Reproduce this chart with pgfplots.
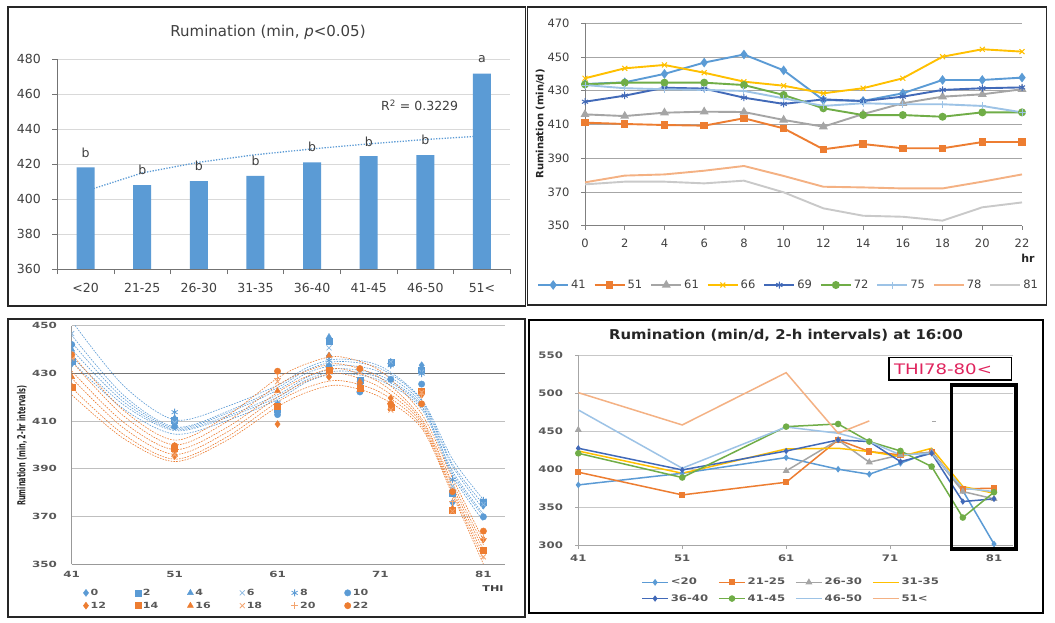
\documentclass[border=0pt]{standalone}
\usepackage{fontspec}
\setmainfont{DejaVu Sans}
\usepackage{graphicx}
\usepackage{pgfplots}
\usepackage{pgfplotstable}
\pgfplotsset{compat=1.18}
\pgfplotsset{/pgf/number format/assume math mode=true}

\definecolor{cBlue}{HTML}{5B9BD5}
\definecolor{cOrange}{HTML}{ED7D31}
\definecolor{cGray}{HTML}{A5A5A5}
\definecolor{cGold}{HTML}{FFC000}
\definecolor{cDBlue}{HTML}{4169B8}
\definecolor{cGreen}{HTML}{70AD47}
\definecolor{cLBlue}{HTML}{9DC3E6}
\definecolor{cSalmon}{HTML}{F4B183}
\definecolor{cLGray}{HTML}{C9C9C9}
\definecolor{cThi}{HTML}{E0245E}
\definecolor{txt}{HTML}{404040}

% Panel 2: rumination by hour, one column per THI
\pgfplotstableread{
hr  a41   a51   a61   a66   a69   a72   a75   a78   a81
0   434   411.1 416   437.4 423.5 433.8 433.4 375.7 374.5
2   435   410.3 415   443.3 427.1 434.8 431.5 379.7 376.1
4   440   409.7 417   445.3 431.8 434.8 430.9 380.4 376.1
6   446.7 409.3 417.6 440.7 431.3 434.8 430.5 382.6 375.1
8   451.5 413.7 417.4 435.4 425.9 433.4 429.9 385.4 376.7
10  442.1 407.7 412.7 433   422.2 427.5 425.5 379.5 369.8
12  424.5 395.3 408.7 428.5 424.9 419.6 421   373.1 360.3
14  424   398.4 416.2 431.5 423.9 415.6 422.6 372.7 355.9
16  428.5 395.9 422.6 437.4 426.5 415.6 422   372.1 355.3
18  436.4 395.9 426.5 450.2 430.5 414.6 422   372.1 353
20  436.4 399.6 427.9 454.6 431.5 417.2 421   376.1 360.9
22  437.8 399.6 430.9 453.2 432   417.2 417.2 380.4 363.8
}\tTwo

% Panel 3: same values by THI, one column per hour
\pgfplotstableread{
THI h0    h2    h4    h6    h8    h10   h12   h14   h16   h18   h20   h22
41  434   435   440   446.7 451.5 442.1 424.5 424   428.5 436.4 436.4 437.8
51  411.1 410.3 409.7 409.3 413.7 407.7 395.3 398.4 395.9 395.9 399.6 399.6
61  416   415   417   417.6 417.4 412.7 408.7 416.2 422.6 426.5 427.9 430.9
66  437.4 443.3 445.3 440.7 435.4 433   428.5 431.5 437.4 450.2 454.6 453.2
69  423.5 427.1 431.8 431.3 425.9 422.2 424.9 423.9 426.5 430.5 431.5 432
72  433.8 434.8 434.8 434.8 433.4 427.5 419.6 415.6 415.6 414.6 417.2 417.2
75  433.4 431.5 430.9 430.5 429.9 425.5 421   422.6 422   422   421   417.2
78  375.7 379.7 380.4 382.6 385.4 379.5 373.1 372.7 372.1 372.1 376.1 380.4
81  374.5 376.1 376.1 375.1 376.7 369.8 360.3 355.9 355.3 353   360.9 363.8
}\tThree

% Panel 3: polynomial trend lines
\pgfplotstableread{
x  B1    B2    B3    B4    B5    B6    O1    O2    O3    O4    O5    O6
41 452   446   443   440   437   435   438   435   431   428   424   421
46 425   421   419.6 418.2 416.9 415.2 414.6 412.3 409.6 407.2 404.5 402.8
51 410.5 407.5 407   406.5 406   404.5 402   400   398   396   394   393
56 416   413.8 413.1 412   411.3 410   411.9 409.5 407.1 405.1 403.1 401.7
61 425   424   423   421   420   419   428   425   422   420   418   416
64 432.7 431.7 430.4 428.7 427.7 426.7 434.3 431.3 429   427   424.3 422.3
67 436   435   433.5 432   431   430   437   434   432   430   427   425
71 433   432   430.5 429   428   427   431   428   426   424   422   420
75 419   418.5 417.5 416.5 416   415   413   411   410   409   408   407
78 394   392   391   389   388   387   386   384   382.5 381   380   379
81 377   375   373   371   370   368   360   358   356   354   352   350
}\tFit

% Panel 4: rumination at 16:00 by THI, one column per group
\pgfplotstableread{
THI  c20   c2125 c2630 c3135 c3640 c4145 c4650 c51
41   379.5 396.2 451.7 424   427.6 421   477.9 500.6
51   394.8 366.4 nan   394.8 399.2 389.2 401.4 458.2
61   415.4 383   397.9 426.7 424   456   455.5 526.8
66   400.1 438.5 438.5 427.6 438.5 459.5 447.3 447.3
69   393.5 423.3 409.3 423.3 436.4 436.4 436.4 463.5
72   408   418.9 418.9 416.7 410.1 424.1 418.9 nan
75   423.3 422.4 422.4 427.6 421   403.6 421   nan
78   372   374.3 370.8 377.4 357.7 336.7 375.2 nan
81   302   375.2 361.2 368.6 361.2 369.9 370.8 nan
}\tFour

\begin{document}
\begin{tikzpicture}[x=1pt,y=1pt]
\useasboundingbox (0,0) rectangle (1055,622);
\fill[white] (0,0) rectangle (1055,622);

%================ Panel 1 ================
\begin{axis}[
  scale only axis, width=453pt, height=210pt,
  at={(57.3pt,353pt)}, anchor=south west,
  xmin=-0.5, xmax=7.5, ymin=360, ymax=480,
  clip=false,
  axis x line*=bottom, axis y line*=left, tick pos=left,
  axis line style={draw=black!55, line width=0.8pt},
  ytick={360,380,...,480},
  ymajorgrids, grid style={draw=black!15, line width=0.7pt},
  xtick={-0.5,0.5,...,7.5}, xticklabels={},
  extra x ticks={0,1,2,3,4,5,6,7},
  extra x tick labels={{<20},{21-25},{26-30},{31-35},{36-40},{41-45},{46-50},{51<}},
  extra x tick style={major tick length=0pt, xticklabel style={yshift=-11pt}},
  tick align=outside, major tick length=5pt,
  tick style={draw=black!55, line width=0.8pt},
  ticklabel style={font=\fontsize{12.5}{14}\selectfont, text=txt},
  yticklabel style={xshift=-8pt},
]
\addplot[cBlue, line width=1.3pt, dash pattern=on 1.3pt off 1.5pt] coordinates {
 (0,404.5) (1,414.9) (2,421) (3,425.3) (4,428.6) (5,431.5) (6,434) (7,436)};
\addplot[ybar, bar width=18pt, fill=cBlue, draw=none] coordinates {
 (0,418) (1,407.9) (2,410.2) (3,413.2) (4,420.9) (5,424.5) (6,425.1) (7,471.6)};
\begin{scope}[every node/.style={font=\fontsize{12.5}{14}\selectfont, text=txt}]
\node at (axis cs:0,426.6) {b};
\node at (axis cs:1,416.5) {b};
\node at (axis cs:2,419) {b};
\node at (axis cs:3,421.8) {b};
\node at (axis cs:4,429.8) {b};
\node at (axis cs:5,432.9) {b};
\node at (axis cs:6,433.6) {b};
\node at (axis cs:7,479.8) {a};
\node at (axis cs:5.9,453.7) {R\textsuperscript{2} = 0.3229};
\end{scope}
\end{axis}
\node[font=\fontsize{15}{17}\selectfont, text=txt] at (268,590) {Rumination (min, \textit{p}<0.05)};

%================ Panel 2 ================
\begin{axis}[
  scale only axis, width=437pt, height=202.4pt,
  at={(585pt,396.3pt)}, anchor=south west,
  xmin=0, xmax=22, ymin=350, ymax=470,
  xtick={0,2,...,22}, ytick={350,370,...,470},
  axis x line*=bottom, axis y line*=left, tick pos=left,
  axis line style={draw=black!50, line width=0.9pt},
  ymajorgrids, grid style={draw=black!35, line width=0.9pt},
  tick align=outside, major tick length=4pt,
  tick style={draw=black!50, line width=0.8pt},
  ticklabel style={font=\fontsize{11.5}{13}\selectfont, text=txt},
  yticklabel style={xshift=-8pt},
  xticklabel style={yshift=-6pt},
  legend columns=9,
  legend style={at={(0.466,-0.293)}, anchor=center, draw=none, fill=none,
    font=\fontsize{11.5}{13}\selectfont, text=txt,
    /tikz/every even column/.append style={column sep=6pt}},
  legend image code/.code={\draw[mark repeat=2,mark phase=2] plot coordinates {(0pt,0pt) (15pt,0pt) (30pt,0pt)};},
]
\addplot[cBlue, line width=1.9pt, mark=diamond*, mark size=3.3pt, mark options={solid, fill=cBlue}] table[x=hr,y=a41]{\tTwo};
\addlegendentry{41}
\addplot[cOrange, line width=1.9pt, mark=square*, mark size=2.8pt, mark options={solid, fill=cOrange}] table[x=hr,y=a51]{\tTwo};
\addlegendentry{51}
\addplot[cGray, line width=1.9pt, mark=triangle*, mark size=3.3pt, mark options={solid, fill=cGray}] table[x=hr,y=a61]{\tTwo};
\addlegendentry{61}
\addplot[cGold, line width=1.9pt, mark=x, mark size=3.5pt, mark options={solid, line width=1pt}] table[x=hr,y=a66]{\tTwo};
\addlegendentry{66}
\addplot[cDBlue, line width=1.9pt, mark=asterisk, mark size=3.5pt, mark options={solid, line width=1pt}] table[x=hr,y=a69]{\tTwo};
\addlegendentry{69}
\addplot[cGreen, line width=1.9pt, mark=*, mark size=3pt, mark options={solid, fill=cGreen}] table[x=hr,y=a72]{\tTwo};
\addlegendentry{72}
\addplot[cLBlue, line width=1.9pt, mark=+, mark size=3.5pt, mark options={solid, line width=1pt}] table[x=hr,y=a75]{\tTwo};
\addlegendentry{75}
\addplot[cSalmon, line width=1.9pt, mark=none] table[x=hr,y=a78]{\tTwo};
\addlegendentry{78}
\addplot[cLGray, line width=1.9pt, mark=none] table[x=hr,y=a81]{\tTwo};
\addlegendentry{81}
\end{axis}
\node[rotate=90, font=\bfseries\fontsize{10}{12}\selectfont, text=black!85] at (540.3,498) {Rumination (min/d)};
\node[font=\bfseries\fontsize{11}{13}\selectfont, text=black!85] at (1028,364) {hr};

%================ Panel 3 ================
\begin{axis}[
  scale only axis, width=433.3pt, height=238.3pt,
  at={(71.7pt,58pt)}, anchor=south west,
  xmin=41, xmax=83.1, ymin=350, ymax=450,
  xtick={41,51,...,81}, ytick={350,370,...,450},
  axis x line*=bottom, axis y line*=left, tick pos=left,
  axis line style={draw=black!40, line width=0.8pt},
  ymajorgrids, grid style={draw=black!25, line width=0.8pt},
  extra y ticks={430}, extra y tick labels={},
  extra y tick style={grid style={draw=black!55, line width=0.9pt}},
  major tick length=0pt,
  ticklabel style={font=\bfseries\fontsize{8.5}{9}\selectfont, text=black!65, xscale=1.4},
  yticklabel style={xshift=-7pt},
  xticklabel style={yshift=-4pt},
  clip marker paths=true,
  legend columns=6,
  legend cell align=left,
  legend style={at={(0.358,-0.148)}, anchor=center, draw=none, fill=none,
    font=\bfseries\fontsize{8.5}{10}\selectfont, text=black!65, row sep=1pt,
    /tikz/every even column/.append style={column sep=27pt}},
]
\foreach \c in {B1,B2,B3,B4,B5,B6} {
  \addplot[cBlue, line width=0.6pt, dash pattern=on 1.6pt off 1.2pt, smooth, forget plot] table[x=x,y=\c]{\tFit};
}
\foreach \c in {O1,O2,O3,O4,O5,O6} {
  \addplot[cOrange, line width=0.6pt, dash pattern=on 1.6pt off 1.2pt, smooth, forget plot] table[x=x,y=\c]{\tFit};
}
\addplot[only marks, mark=diamond*, mark size=3.5pt, cBlue, mark options={fill=cBlue}] table[x=THI,y=h0]{\tThree};
\addlegendentry{\scalebox{1.3}[1]{0}}
\addplot[only marks, mark=square*, mark size=3pt, cBlue, mark options={fill=cBlue}] table[x=THI,y=h2]{\tThree};
\addlegendentry{\scalebox{1.3}[1]{2}}
\addplot[only marks, mark=triangle*, mark size=3.5pt, cBlue, mark options={fill=cBlue}] table[x=THI,y=h4]{\tThree};
\addlegendentry{\scalebox{1.3}[1]{4}}
\addplot[only marks, mark=x, mark size=3.5pt, cBlue!70, mark options={line width=0.8pt}] table[x=THI,y=h6]{\tThree};
\addlegendentry{\scalebox{1.3}[1]{6}}
\addplot[only marks, mark=asterisk, mark size=3.5pt, cBlue, mark options={line width=0.8pt}] table[x=THI,y=h8]{\tThree};
\addlegendentry{\scalebox{1.3}[1]{8}}
\addplot[only marks, mark=*, mark size=3.2pt, cBlue, mark options={fill=cBlue}] table[x=THI,y=h10]{\tThree};
\addlegendentry{\scalebox{1.3}[1]{10}}
\addplot[only marks, mark=diamond*, mark size=3.5pt, cOrange, mark options={fill=cOrange}] table[x=THI,y=h12]{\tThree};
\addlegendentry{\scalebox{1.3}[1]{12}}
\addplot[only marks, mark=square*, mark size=3pt, cOrange, mark options={fill=cOrange}] table[x=THI,y=h14]{\tThree};
\addlegendentry{\scalebox{1.3}[1]{14}}
\addplot[only marks, mark=triangle*, mark size=3.5pt, cOrange, mark options={fill=cOrange}] table[x=THI,y=h16]{\tThree};
\addlegendentry{\scalebox{1.3}[1]{16}}
\addplot[only marks, mark=x, mark size=3.5pt, cOrange!70, mark options={line width=0.8pt}] table[x=THI,y=h18]{\tThree};
\addlegendentry{\scalebox{1.3}[1]{18}}
\addplot[only marks, mark=+, mark size=3.5pt, cOrange!70, mark options={line width=0.8pt}] table[x=THI,y=h20]{\tThree};
\addlegendentry{\scalebox{1.3}[1]{20}}
\addplot[only marks, mark=*, mark size=3.2pt, cOrange, mark options={fill=cOrange}] table[x=THI,y=h22]{\tThree};
\addlegendentry{\scalebox{1.3}[1]{22}}
\end{axis}
\node[rotate=90, text=black!85] at (22,176.2) {\scalebox{0.6}[1]{\bfseries\fontsize{11}{13}\selectfont Rumination (min, 2-hr intervals)}};
\node[text=black!75] at (493,33) {\scalebox{1.4}[1]{\bfseries\fontsize{8}{9}\selectfont THI}};

%================ Panel 4 ================
\begin{axis}[
  scale only axis, width=434.4pt, height=190.5pt,
  at={(578.3pt,76.5pt)}, anchor=south west,
  xmin=41, xmax=82.8, ymin=300, ymax=550,
  xtick={41,51,...,81}, ytick={300,350,...,550},
  axis x line*=bottom, axis y line*=left, tick pos=left,
  axis line style={draw=black!35, line width=0.8pt},
  ymajorgrids, grid style={draw=black!22, line width=0.8pt},
  tick align=outside, major tick length=3pt,
  tick style={draw=black!35, line width=0.7pt},
  ticklabel style={font=\bfseries\fontsize{9}{10}\selectfont, text=black!65, xscale=1.3},
  yticklabel style={xshift=-6pt},
  xticklabel style={yshift=-3pt},
  unbounded coords=jump,
  legend columns=4,
  legend cell align=left,
  legend style={at={(0.49,-0.236)}, anchor=center, draw=none, fill=none,
    font=\bfseries\fontsize{9}{10}\selectfont, text=black!65, row sep=4pt,
    /tikz/every even column/.append style={column sep=8pt}},
  legend image code/.code={\draw[mark repeat=2,mark phase=2] plot coordinates {(0pt,0pt) (13pt,0pt) (26pt,0pt)};},
]
\addplot[cBlue, line width=1.5pt, mark=diamond*, mark size=2.2pt, mark options={solid, fill=cBlue}] table[x=THI,y=c20]{\tFour};
\addlegendentry{\scalebox{1.3}[1]{<20}}
\addplot[cOrange, line width=1.5pt, mark=square*, mark size=2.3pt, mark options={solid, fill=cOrange}] table[x=THI,y=c2125]{\tFour};
\addlegendentry{\scalebox{1.3}[1]{21-25}}
\addplot[cGray, line width=1.5pt, mark=triangle*, mark size=2.6pt, mark options={solid, fill=cGray}] table[x=THI,y=c2630]{\tFour};
\addlegendentry{\scalebox{1.3}[1]{26-30}}
\addplot[cGold, line width=1.5pt, mark=none] table[x=THI,y=c3135]{\tFour};
\addlegendentry{\scalebox{1.3}[1]{31-35}}
\addplot[cDBlue, line width=1.5pt, mark=diamond*, mark size=2pt, mark options={solid, fill=cDBlue}] table[x=THI,y=c3640]{\tFour};
\addlegendentry{\scalebox{1.3}[1]{36-40}}
\addplot[cGreen, line width=1.5pt, mark=*, mark size=2.5pt, mark options={solid, fill=cGreen}] table[x=THI,y=c4145]{\tFour};
\addlegendentry{\scalebox{1.3}[1]{41-45}}
\addplot[cLBlue, line width=1.5pt, mark=none] table[x=THI,y=c4650]{\tFour};
\addlegendentry{\scalebox{1.3}[1]{46-50}}
\addplot[cSalmon, line width=1.5pt, mark=none] table[x=THI,y=c51]{\tFour};
\addlegendentry{\scalebox{1.3}[1]{51<}}
\addplot[only marks, mark=-, mark size=2pt, black!35, forget plot] coordinates {(75.2,463.5)};
\end{axis}
\node[text=black!85] at (786,287) {\scalebox{1.1}[1]{\bfseries\fontsize{13.5}{15}\selectfont Rumination (min/d, 2-h intervals) at 16:00}};
\draw[line width=1.2pt, fill=white] (889,242) rectangle (1011.7,264.3);
\node[text=cThi] at (943,253) {\scalebox{1.25}[1]{\fontsize{14.5}{16}\selectfont THI78-80<}};
\draw[line width=3.2pt] (951.7,73) rectangle (1016,237);

%================ Panel borders ================
\draw[line width=1.3pt, black!85] (8,316) rectangle (525.5,615);
\draw[line width=1.3pt, black!85] (527.5,317) rectangle (1046.7,615);
\draw[line width=1.3pt, black!85] (8,5) rectangle (525,303);
\draw[line width=1.5pt, black] (529,9) rectangle (1043,302);
\end{tikzpicture}
\end{document}
